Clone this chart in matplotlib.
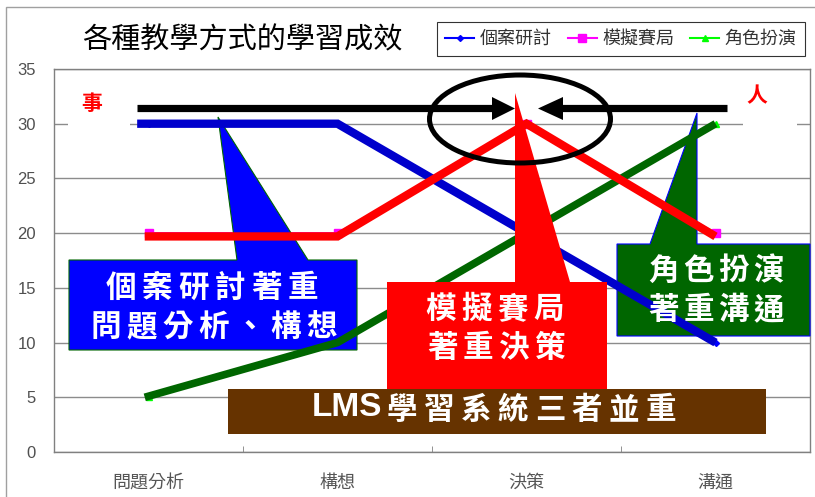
import matplotlib
matplotlib.use('Agg')
import matplotlib.pyplot as plt
import numpy as np
from matplotlib.patches import Polygon, Rectangle, Ellipse
from matplotlib.lines import Line2D

# ---------------- data ----------------
categories = ['問題分析', '構想', '決策', '溝通']
case_study = [30, 30, 20, 10]      # 個案研討
simulation = [20, 20, 30, 20]      # 模擬賽局
role_play = [5, 10, 20, 30]        # 角色扮演
series_names = ['個案研討', '模擬賽局', '角色扮演']
title = '各種教學方式的學習成效'
y_ticks = [0, 5, 10, 15, 20, 25, 30, 35]

# ---------------- setup ----------------
W, H = 815, 497
plt.rcParams['font.family'] = ['Noto Sans CJK TC', 'DejaVu Sans']

fig = plt.figure(figsize=(W / 100, H / 100), dpi=100)
fig.patch.set_facecolor('white')
ax = fig.add_axes([54 / W, 1 - 452 / H, (810 - 54) / W, (452 - 69) / H])


def P(px, py):
    return (px / W, 1 - py / H)


def add_poly(points, **kw):
    p = Polygon([P(*pt) for pt in points], closed=True,
                transform=fig.transFigure, clip_on=False, **kw)
    ax.add_artist(p)
    return p


def add_rect(x0, y0, x1, y1, **kw):
    r = Rectangle(P(x0, y1), (x1 - x0) / W, (y1 - y0) / H,
                  transform=fig.transFigure, clip_on=False, **kw)
    ax.add_artist(r)
    return r


def spaced(cx, cy, s, pitch, size, **kw):
    n = len(s)
    for i, ch in enumerate(s):
        ax.text(*P(cx + (i - (n - 1) / 2) * pitch, cy), ch,
                transform=fig.transFigure, ha='center', va='center',
                fontsize=size, color='white', fontweight='bold',
                zorder=12, clip_on=False, **kw)


x = np.arange(len(categories))

# axes styling
ax.set_xlim(-0.5, len(categories) - 0.5)
ax.set_ylim(0, 35)
ax.set_yticks(y_ticks)
ax.yaxis.grid(True, color='#8c8c8c', lw=1.0)
ax.set_axisbelow(True)
for sp in ax.spines.values():
    sp.set_color('#808080')
    sp.set_linewidth(1.0)
ax.set_xticks(x)
ax.set_xticklabels(categories, fontsize=13, color='#555555')
ax.set_xticks([0.5, 1.5, 2.5], minor=True)
ax.tick_params(axis='x', which='major', length=0, pad=16)
ax.tick_params(axis='x', which='minor', direction='in', length=4, color='#808080')
ax.tick_params(axis='y', length=0, pad=13, labelsize=12, labelcolor='#505050')
for lab in ax.get_yticklabels():
    lab.set_family(['Liberation Sans', 'DejaVu Sans'])

# thin data series
l1, = ax.plot(x, case_study, color='#0000ff', lw=1.5, marker='D', ms=3, zorder=2)
l2, = ax.plot(x, simulation, color='#ff00ff', lw=1.5, marker='s', ms=6, zorder=2)
l3, = ax.plot(x, role_play, color='#00ff00', lw=1.5, marker='^', ms=4, zorder=2)

# white boxes behind 事 / 人
add_rect(68, 86, 130, 130, fc='white', ec='none', zorder=1.5)
add_rect(743, 78, 797, 130, fc='white', ec='none', zorder=1.5)

# blue callout
add_poly([(69, 260), (237, 260), (218, 117), (308, 260), (357, 260),
          (357, 350), (69, 350)], fc='#0000ff', ec='#006600', lw=0.8, zorder=3)
# green callout
add_poly([(617, 244), (650, 244), (697, 113), (697, 244), (810, 244),
          (810, 336), (617, 336)], fc='#006600', ec='#0000ff', lw=0.8, zorder=3)

# thick overlay lines traced on the series
xb = x.astype(float)
xb[0] -= 0.06
ax.plot(xb, case_study, color='#0000cc', lw=6, solid_capstyle='butt',
        solid_joinstyle='miter', zorder=4, clip_on=False)
xr = x.astype(float)
xr[0] -= 0.02
ax.plot(xr, [v - 0.3 if v == 20 else v for v in simulation], color='#ff0000', lw=6,
        solid_capstyle='butt', solid_joinstyle='miter', zorder=5, clip_on=False)
ax.plot(xr, role_play, color='#006600', lw=5.5, solid_capstyle='butt',
        solid_joinstyle='round', zorder=4.5, clip_on=False)

# red callout
add_poly([(387, 282), (515, 282), (515, 93), (570, 282), (607, 282),
          (607, 400), (387, 400)], fc='#ff0000', ec='none', zorder=6)

# brown banner
add_rect(228, 389, 766, 434, fc='#663300', ec='none', zorder=7)

# black arrows & ellipse
for xs in [(137, 494), (561, 727)]:
    ax.add_artist(Line2D([xs[0] / W, xs[1] / W], [1 - 108 / H, 1 - 108 / H],
                         transform=fig.transFigure, color='black', lw=5.2,
                         solid_capstyle='butt', zorder=9, clip_on=False))
add_poly([(492, 97), (515, 108.5), (492, 120)], fc='black', ec='none', zorder=9)
add_poly([(563, 97), (538, 108.5), (563, 120)], fc='black', ec='none', zorder=9)
ax.add_artist(Ellipse(P(520, 119), 181 / W, 88 / H, transform=fig.transFigure,
                      fill=False, ec='black', lw=3.6, zorder=9, clip_on=False))

# labels 事 / 人
ax.text(*P(92, 104), '事', transform=fig.transFigure, ha='center', va='center',
        fontsize=15, color='#ff0000', fontweight='bold', zorder=12)
ax.text(*P(757, 96), '人', transform=fig.transFigure, ha='center', va='center',
        fontsize=15, color='#ff0000', fontweight='bold', zorder=12)

# callout texts
spaced(212, 288, '個案研討著重', 36.5, 22)
spaced(214, 327, '問題分析、構想', 36, 22)
spaced(495, 309, '模擬賽局', 36, 22)
spaced(496, 348, '著重決策', 36, 22)
spaced(716, 271, '角色扮演', 35, 22)
spaced(716, 310, '著重溝通', 35, 22)
ax.text(*P(347, 408), 'LMS', transform=fig.transFigure, ha='center', va='center',
        fontsize=24, color='white', fontweight='bold',
        family=['Liberation Sans', 'DejaVu Sans'], zorder=12)
spaced(402 + 3.5 * 37, 410, '學習系統三者並重', 37, 22)

# title
fig.text(*P(242, 40), title, ha='center', va='center', fontsize=21, color='black')

# legend
leg = fig.legend([l1, l2, l3], series_names, loc='center', bbox_to_anchor=P(621, 39),
                 ncol=3, fontsize=13, frameon=True, fancybox=False,
                 edgecolor='black', handlelength=1.6, columnspacing=0.9,
                 handletextpad=0.3, borderpad=0.45)
leg.get_frame().set_linewidth(0.8)
for t in leg.get_texts():
    t.set_color('#333333')

# outer border
fig.add_artist(Rectangle(P(6, H + 10), (W + 10) / W, (H + 3) / H,
                         transform=fig.transFigure, fill=False, ec='#a0a0a0', lw=1.0))

fig.savefig('out.png', dpi=100)
